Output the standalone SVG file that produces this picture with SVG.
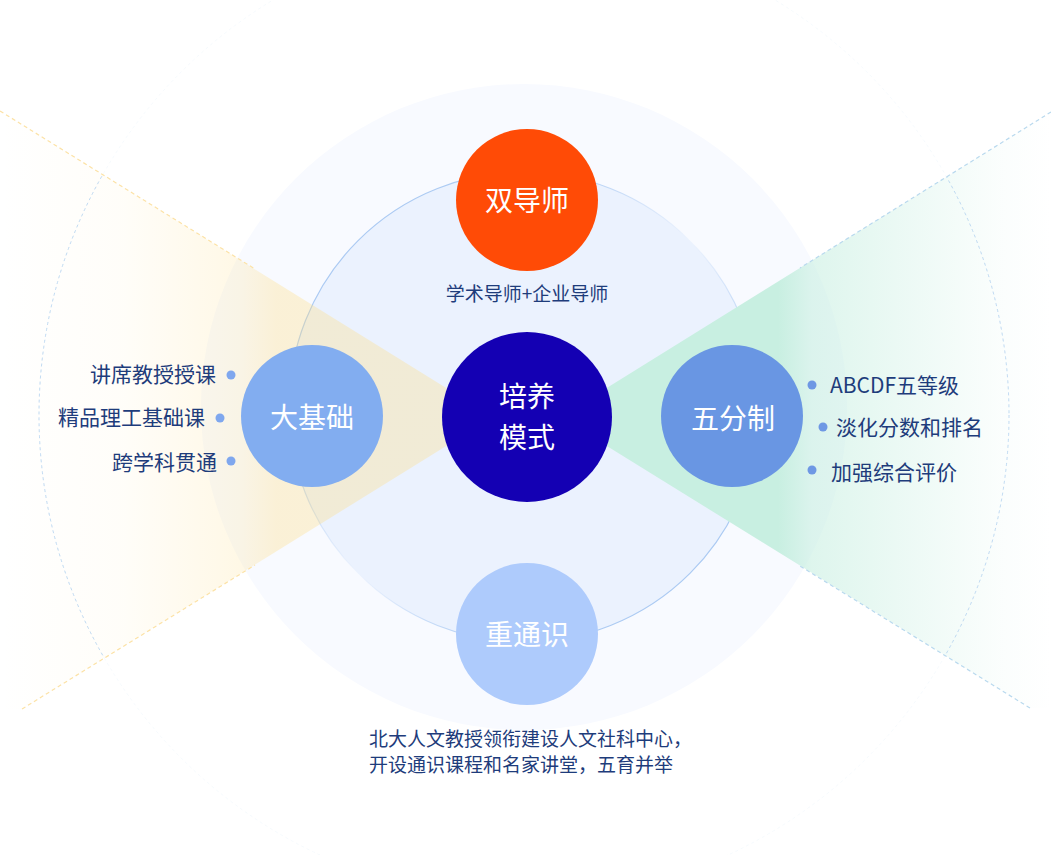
<svg xmlns="http://www.w3.org/2000/svg" width="1051" height="855" viewBox="0 0 1051 855">
<defs>
<style>
.t{font-family:"Noto Sans CJK SC","Noto Sans",sans-serif;}
.nav{fill:#1E3C7B;font-size:21px;}
.sub{fill:#1E3C7B;font-size:19px;}
.lbl{fill:#ffffff;font-size:28px;text-anchor:middle;}
.dotL{fill:#7FA7EE;}
.dotR{fill:#6E98E4;}
.edgeY{stroke:#FCE2A6;stroke-width:1.2;stroke-dasharray:4 3;fill:none;}
.edgeG{stroke:#B9D9EE;stroke-width:1.2;stroke-dasharray:4 3;fill:none;}
</style>
<linearGradient id="gL" gradientUnits="userSpaceOnUse" x1="493" y1="0" x2="0" y2="0">
<stop offset="0" stop-color="#FFDC80" stop-opacity="0.32"/>
<stop offset="0.44" stop-color="#FFDC80" stop-opacity="0.32"/>
<stop offset="0.51" stop-color="#FFDC80" stop-opacity="0.2"/>
<stop offset="0.75" stop-color="#FFDC80" stop-opacity="0.05"/>
<stop offset="1" stop-color="#FFDC80" stop-opacity="0"/>
</linearGradient>
<linearGradient id="gR" gradientUnits="userSpaceOnUse" x1="560" y1="0" x2="1051" y2="0">
<stop offset="0" stop-color="#C8EFE1" stop-opacity="1"/>
<stop offset="0.444" stop-color="#C8EFE1" stop-opacity="1"/>
<stop offset="0.513" stop-color="#C8EFE1" stop-opacity="0.6"/>
<stop offset="0.896" stop-color="#C8EFE1" stop-opacity="0.08"/>
<stop offset="1" stop-color="#C8EFE1" stop-opacity="0"/>
</linearGradient>
<linearGradient id="gStroke" x1="0" y1="0" x2="1" y2="1">
<stop offset="0" stop-color="#A8C8F2" stop-opacity="1"/>
<stop offset="0.3" stop-color="#A8C8F2" stop-opacity="0.9"/>
<stop offset="0.5" stop-color="#A8C8F2" stop-opacity="0"/>
<stop offset="0.7" stop-color="#A8C8F2" stop-opacity="0.9"/>
<stop offset="1" stop-color="#A8C8F2" stop-opacity="1"/>
</linearGradient>
<clipPath id="fanClip">
<polygon points="493,417 0,111 0,709 22,709"/>
<polygon points="560,417 1051,112 1051,708 1030,708"/>
</clipPath>
</defs>

<g id="backdrop">
<circle cx="524" cy="407" r="323" fill="#F8FAFF"/>
<circle cx="524" cy="415" r="485" fill="none" stroke="#B5D3F0" stroke-width="1" stroke-dasharray="3 3" opacity="0.12"/>
<circle cx="524" cy="407" r="235" fill="#EBF2FE"/>
<circle cx="524" cy="407" r="235" fill="none" stroke="url(#gStroke)" stroke-width="1.2"/>
</g>

<g id="fans">
<polygon points="493,417 0,111 0,709 22,709" fill="url(#gL)"/>
<polygon points="560,417 1051,112 1051,708 1030,708" fill="url(#gR)"/>
<circle cx="524" cy="415" r="485" fill="none" stroke="#B5D3F0" stroke-width="1" stroke-dasharray="3 3" opacity="0.8" clip-path="url(#fanClip)"/>
</g>

<g id="connectors">
<line class="edgeY" x1="0" y1="111" x2="255" y2="269"/>
<line class="edgeY" x1="22" y1="709" x2="255" y2="565"/>
<line class="edgeG" x1="1051" y1="112" x2="800" y2="268"/>
<line class="edgeG" x1="1030" y1="708" x2="800" y2="566"/>
</g>

<g id="node-shuangdaoshi">
<circle cx="527" cy="200" r="71" fill="#FF4B06"/>
<text class="t lbl" x="527" y="211">双导师</text>
<text class="t sub" x="527" y="301" text-anchor="middle">学术导师+企业导师</text>
</g>

<g id="node-center">
<circle cx="527" cy="417" r="85" fill="#1400B3"/>
<text class="t" fill="#ffffff" font-size="28" text-anchor="middle"><tspan x="527" y="407">培养</tspan><tspan x="527" y="448">模式</tspan></text>
</g>

<g id="node-dajichu">
<circle cx="312" cy="416" r="71" fill="#82ADF0"/>
<text class="t lbl" x="312" y="428">大基础</text>
<circle class="dotL" cx="231" cy="375" r="4.5"/>
<circle class="dotL" cx="220" cy="418" r="4.5"/>
<circle class="dotL" cx="231" cy="461" r="4.5"/>
<text class="t nav" x="216" y="382" text-anchor="end">讲席教授授课</text>
<text class="t nav" x="205" y="425" text-anchor="end">精品理工基础课</text>
<text class="t nav" x="217" y="470" text-anchor="end">跨学科贯通</text>
</g>

<g id="node-wufenzhi">
<circle cx="732" cy="416" r="71" fill="#6996E3"/>
<text class="t lbl" x="733" y="429">五分制</text>
<circle class="dotR" cx="812" cy="385" r="4.5"/>
<circle class="dotR" cx="823" cy="427" r="4.5"/>
<circle class="dotR" cx="812" cy="470" r="4.5"/>
<text class="t nav" x="830" y="393">ABCDF五等级</text>
<text class="t nav" x="836" y="435">淡化分数和排名</text>
<text class="t nav" x="831" y="480">加强综合评价</text>
</g>

<g id="node-zhongtongshi">
<circle cx="527" cy="634" r="71" fill="#AECBFC"/>
<text class="t lbl" x="527" y="645">重通识</text>
<text class="t sub" x="369" y="746">北大人文教授领衔建设人文社科中心，</text>
<text class="t sub" x="369" y="772">开设通识课程和名家讲堂，五育并举</text>
</g>
</svg>
